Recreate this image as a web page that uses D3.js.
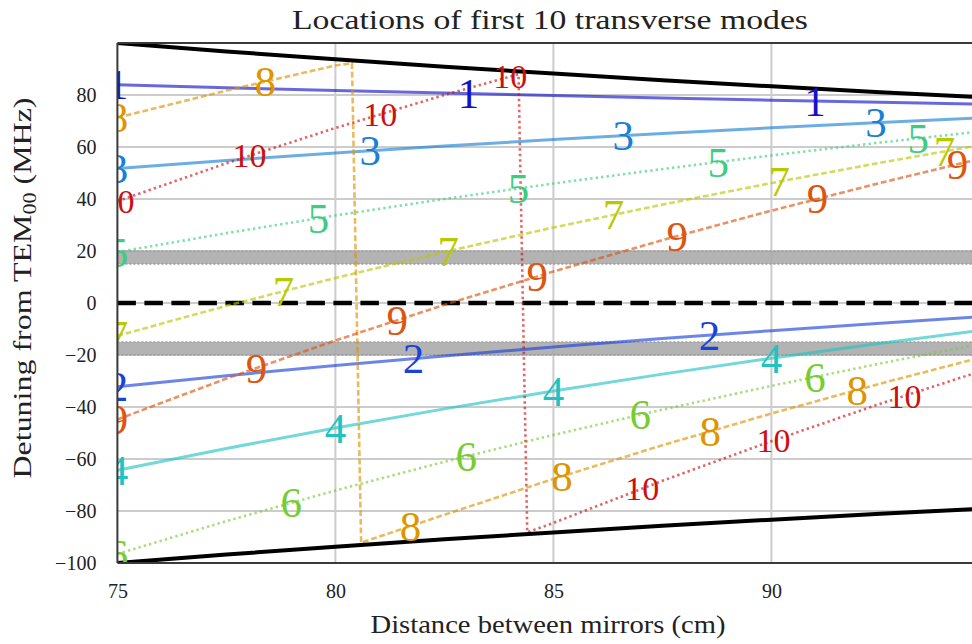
<!DOCTYPE html>
<html>
<head>
<meta charset="utf-8">
<script src="https://cdn.jsdelivr.net/npm/d3@7"></script>
<style>
  body { margin: 0; background: #fff; }
  svg { display: block; }
  text { font-family: "Liberation Serif", "DejaVu Serif", serif; fill: #222; }
</style>
</head>
<body>
<svg id="chart" width="972" height="644"></svg>
<script>
// Mirror separation samples (cm)
const lengths = [75, 77.5, 80, 82.5, 85, 87.5, 90, 92.5, 95];
// Half free spectral range, the edges of the folded detuning window (MHz)
const halfFSR = [100, 96.77, 93.75, 90.91, 88.24, 85.71, 83.33, 81.08, 78.95];

// Detuning of each transverse mode from TEM00 (MHz)
const mode1 = [83.91, 82.79, 81.73, 80.73, 79.78, 78.88, 78.02, 77.21, 76.43];
const mode2 = [-32.17, -27.96, -24.04, -20.36, -16.92, -13.68, -10.63, -7.75, -5.03];
const mode3 = [51.74, 54.83, 57.70, 60.37, 62.86, 65.20, 67.39, 69.46, 71.41];
const mode4 = [-64.34, -55.93, -48.07, -40.72, -33.83, -27.36, -21.26, -15.50, -10.06];
const mode5 = [19.57, 26.87, 33.66, 40.01, 45.95, 51.52, 56.76, 61.71, 66.38];
const mode6 = [-96.52, -83.89, -72.11, -61.08, -50.75, -41.03, -31.88, -23.25, -15.08];
const mode7 = [-12.60, -1.10, 9.63, 19.65, 29.03, 37.84, 46.14, 53.96, 61.35];
const mode9 = [-44.78, -29.06, -14.41, -0.71, 12.12, 24.17, 35.51, 46.21, 56.32];
// Modes 8 and 10 fold over the window edge, so they carry their own samples
const mode8Lengths = [75, 77.5, 80, 80.38, 80.59, 82.5, 85, 87.5, 90, 92.5, 95];
const mode8 = [71.31, 81.69, 91.36, 92.2, -92.2, -81.44, -67.66, -54.71, -42.51, -31.00, -20.11];
const mode10Lengths = [75, 77.5, 80, 82.5, 84.2, 84.4, 85, 87.5, 90, 92.5, 95];
const mode10 = [39.14, 53.73, 67.32, 80.01, 88.0, -88.2, -84.58, -68.39, -53.14, -38.75, -25.14];

// Where each mode number is written along its line (cm)
const labelPositions = [
  [75, 83.05, 91.0],
  [75, 81.79, 88.58],
  [75, 80.8, 86.6, 92.4],
  [75, 80, 85, 90],
  [75, 79.61, 84.2, 88.78, 93.37],
  [75, 78.99, 83.0, 86.99, 91.0],
  [75, 78.81, 82.59, 86.38, 90.18, 93.97],
  [75, 78.39, 81.72, 85.2, 88.6, 91.97],
  [75, 78.19, 81.42, 84.63, 87.84, 91.06, 94.27],
  [75, 78.03, 81.03, 84.01, 87.04, 90.05, 93.05]
];

// Forbidden detuning bands (MHz)
const bands = [[15, 20], [-20, -15]];

const xTicks = [75, 80, 85, 90];
const yTicks = [-100, -80, -60, -40, -20, 0, 20, 40, 60, 80];
const xGrid = [80, 85, 90];
const yGrid = [-80, -60, -40, -20, 0, 20, 40, 60, 80];

const modeColors = ["#1212c8", "#1a42d8", "#1a80d2", "#22c2c2", "#3dcc80",
                    "#77cc33", "#b9c900", "#dd9500", "#dd5510", "#cc1010"];
const modeStyles = ["solid", "solid", "solid", "solid", "dotted",
                    "dotted", "dashed", "dashed", "dashed", "dotted"];

const modes = [
  { n: 1, xs: lengths, ys: mode1 },
  { n: 2, xs: lengths, ys: mode2 },
  { n: 3, xs: lengths, ys: mode3 },
  { n: 4, xs: lengths, ys: mode4 },
  { n: 5, xs: lengths, ys: mode5 },
  { n: 6, xs: lengths, ys: mode6 },
  { n: 7, xs: lengths, ys: mode7 },
  { n: 8, xs: mode8Lengths, ys: mode8 },
  { n: 9, xs: lengths, ys: mode9 },
  { n: 10, xs: mode10Lengths, ys: mode10 }
].map((m, i) => ({
  ...m,
  color: modeColors[i],
  style: modeStyles[i],
  labels: labelPositions[i],
  pts: m.xs.map((x, j) => [x, m.ys[j]])
}));

const svg = d3.select("#chart");
const plot = { left: 117.4, right: 989.4, top: 43, bottom: 563 };

const x = d3.scaleLinear().domain([75, 95]).range([plot.left, plot.right]);
const y = d3.scaleLinear().domain([-100, 100]).range([plot.bottom, plot.top]);

svg.append("defs").append("clipPath").attr("id", "plotClip")
  .append("rect")
  .attr("x", plot.left).attr("y", plot.top)
  .attr("width", plot.right - plot.left).attr("height", plot.bottom - plot.top);

const g = svg.append("g").attr("clip-path", "url(#plotClip)");

// grid
g.append("g").selectAll("line").data(xGrid).join("line")
  .attr("x1", d => x(d)).attr("x2", d => x(d))
  .attr("y1", plot.top).attr("y2", plot.bottom)
  .attr("stroke", "#cccccc").attr("stroke-width", 2);
g.append("g").selectAll("line").data(yGrid).join("line")
  .attr("x1", plot.left).attr("x2", plot.right)
  .attr("y1", d => y(d)).attr("y2", d => y(d))
  .attr("stroke", "#cccccc").attr("stroke-width", 2);

// forbidden bands
const bandG = g.append("g");
bandG.selectAll("rect").data(bands).join("rect")
  .attr("x", plot.left).attr("width", plot.right - plot.left)
  .attr("y", d => y(d[1])).attr("height", d => y(d[0]) - y(d[1]))
  .attr("fill", "#a8a8a8").attr("fill-opacity", 0.88);
bandG.selectAll("line").data(bands.flat()).join("line")
  .attr("x1", plot.left).attr("x2", plot.right)
  .attr("y1", d => y(d)).attr("y2", d => y(d))
  .attr("stroke", "#9a9a9a").attr("stroke-width", 1.3)
  .attr("stroke-dasharray", "2,2");

// TEM00 reference
g.append("line")
  .attr("x1", plot.left).attr("x2", plot.right)
  .attr("y1", y(0)).attr("y2", y(0))
  .attr("stroke", "#000").attr("stroke-width", 4.5)
  .attr("stroke-dasharray", "18.5,8.5");

const line = d3.line().x(d => x(d[0])).y(d => y(d[1]));

// mode lines
const dash = { solid: null, dashed: "5.8,2.8", dotted: "2.4,3.1" };
g.append("g").selectAll("path").data(modes).join("path")
  .attr("d", d => line(d.pts))
  .attr("fill", "none")
  .attr("stroke", d => d.color)
  .attr("stroke-opacity", 0.64)
  .attr("stroke-width", d => d.style === "solid" ? 3 : 2.6)
  .attr("stroke-dasharray", d => dash[d.style]);

// window edges at +/- FSR/2
const edgeTop = lengths.map((l, i) => [l, halfFSR[i]]);
const edgeBottom = lengths.map((l, i) => [l, -halfFSR[i]]);
g.append("g").selectAll("path").data([edgeTop, edgeBottom]).join("path")
  .attr("d", line)
  .attr("fill", "none").attr("stroke", "#000").attr("stroke-width", 4);

// value of a mode at a given length, read along its samples
function valueAt(m, xv) {
  const i = Math.min(Math.max(d3.bisectRight(m.xs, xv), 1), m.xs.length - 1);
  const x0 = m.xs[i - 1], x1 = m.xs[i];
  const t = (xv - x0) / (x1 - x0);
  return m.ys[i - 1] + t * (m.ys[i] - m.ys[i - 1]);
}

// mode number labels
const labelData = modes.flatMap(m => m.labels.map(lx => ({ m, lx, ly: valueAt(m, lx) })));
g.append("g").selectAll("text").data(labelData).join("text")
  .attr("x", d => x(d.lx))
  .attr("y", d => y(d.ly))
  .attr("dy", "0.34em")
  .attr("text-anchor", "middle")
  .style("font-size", d => d.m.n === 10 ? "34px" : "43px")
  .style("fill", d => d.m.color)
  .text(d => d.m.n);

// frame
const frame = svg.append("g").attr("stroke", "#3a3a3a").attr("stroke-width", 2);
frame.append("line").attr("x1", plot.left).attr("x2", plot.left)
  .attr("y1", plot.top).attr("y2", plot.bottom);
frame.append("line").attr("x1", plot.left).attr("x2", plot.right)
  .attr("y1", plot.top).attr("y2", plot.top);
frame.append("line").attr("x1", plot.left).attr("x2", plot.right)
  .attr("y1", plot.bottom).attr("y2", plot.bottom);

// axes
const xAxis = d3.axisBottom(x).tickValues(xTicks).tickSize(0).tickPadding(0)
  .tickFormat(d3.format("d"));
const xa = svg.append("g").attr("transform", `translate(0,${plot.bottom})`).call(xAxis);
xa.select(".domain").remove();
xa.selectAll("text").attr("y", 35).attr("dy", null)
  .style("font-size", "20px").style("font-family", "'Liberation Serif', serif").style("fill", "#222");

const yAxis = d3.axisLeft(y).tickValues(yTicks).tickSize(0).tickPadding(0)
  .tickFormat(d => d < 0 ? "\u2212" + Math.abs(d) : String(d));
const ya = svg.append("g").attr("transform", `translate(${plot.left - 21},0)`).call(yAxis);
ya.select(".domain").remove();
ya.selectAll("text").attr("dy", "0.34em")
  .style("font-size", "20px").style("font-family", "'Liberation Serif', serif").style("fill", "#222");

// titles
svg.append("text")
  .attr("x", 550).attr("y", 29)
  .attr("text-anchor", "middle")
  .attr("textLength", 516).attr("lengthAdjust", "spacingAndGlyphs")
  .style("font-size", "28px")
  .text("Locations of first 10 transverse modes");

svg.append("text")
  .attr("x", 548).attr("y", 633)
  .attr("text-anchor", "middle")
  .attr("textLength", 355).attr("lengthAdjust", "spacingAndGlyphs")
  .style("font-size", "26px")
  .text("Distance between mirrors (cm)");

const yl = svg.append("text")
  .attr("transform", "translate(31,288) rotate(-90)")
  .attr("text-anchor", "middle")
  .attr("textLength", 381).attr("lengthAdjust", "spacingAndGlyphs")
  .style("font-size", "26px");
yl.append("tspan").text("Detuning from TEM");
yl.append("tspan").attr("dy", 5).style("font-size", "18px").text("00");
yl.append("tspan").attr("dy", -5).text(" (MHz)");
</script>
</body>
</html>
